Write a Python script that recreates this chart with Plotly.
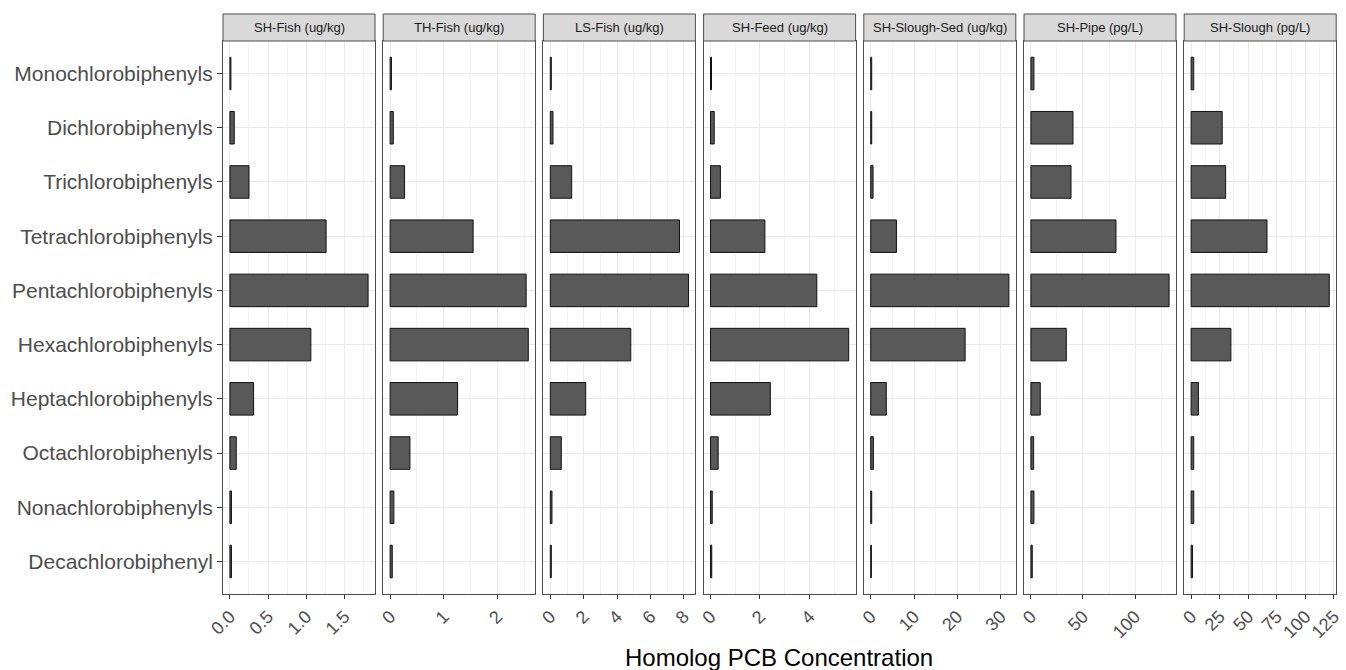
import plotly.graph_objects as go

categories = [
    "Monochlorobiphenyls", "Dichlorobiphenyls", "Trichlorobiphenyls",
    "Tetrachlorobiphenyls", "Pentachlorobiphenyls", "Hexachlorobiphenyls",
    "Heptachlorobiphenyls", "Octachlorobiphenyls", "Nonachlorobiphenyls",
    "Decachlorobiphenyl",
]

panel_titles = [
    "SH-Fish (ug/kg)", "TH-Fish (ug/kg)", "LS-Fish (ug/kg)", "SH-Feed (ug/kg)",
    "SH-Slough-Sed (ug/kg)", "SH-Pipe (pg/L)", "SH-Slough (pg/L)",
]

sh_fish = [0.013, 0.057, 0.25, 1.26, 1.81, 1.06, 0.31, 0.083, 0.02, 0.02]
th_fish = [0.025, 0.06, 0.27, 1.55, 2.54, 2.58, 1.26, 0.37, 0.07, 0.04]
ls_fish = [0.06, 0.16, 1.28, 7.74, 8.28, 4.82, 2.12, 0.66, 0.10, 0.06]
sh_feed = [0.04, 0.15, 0.40, 2.20, 4.30, 5.59, 2.42, 0.31, 0.07, 0.05]
sh_slough_sed = [0.23, 0.23, 0.54, 5.94, 31.9, 21.8, 3.6, 0.62, 0.23, 0.15]
sh_pipe = [2.9, 40.4, 38.5, 81.7, 132.7, 34.0, 9.0, 2.6, 2.9, 1.3]
sh_slough = [2.3, 27.2, 30.2, 66.4, 120.9, 34.8, 6.4, 2.3, 2.3, 1.2]

series = [sh_fish, th_fish, ls_fish, sh_feed, sh_slough_sed, sh_pipe, sh_slough]
major_dticks = [0.5, 1, 2, 2, 10, 50, 25]
tick_formats = [".1f", "d", "d", "d", "d", "d", "d"]

W, H = 1346, 670
panel_left0 = 223.0
panel_step = 160.2
panel_w = 152.0
panel_top = 41.0
panel_bottom = 594.0
strip_top = 14.0

FONT = "Liberation Sans, Arial, sans-serif"
GRID = "#EBEBEB"
BORDER = "#4D4D4D"

fig = go.Figure()
layout = dict(
    width=W, height=H,
    margin=dict(l=0, r=0, t=0, b=0, autoexpand=False),
    paper_bgcolor="white", plot_bgcolor="white",
    showlegend=False,
    font=dict(family=FONT, color="#4D4D4D"),
    bargap=0.4,
)
shapes = []
annotations = []

ydom = [1 - panel_bottom / H, 1 - panel_top / H]

for i, (title, vals) in enumerate(zip(panel_titles, series)):
    n = i + 1
    xa = "x" if n == 1 else f"x{n}"
    ya = "y" if n == 1 else f"y{n}"
    x0 = panel_left0 + i * panel_step
    x1 = x0 + panel_w
    xdom = [x0 / W, x1 / W]

    fig.add_trace(go.Bar(
        x=vals, y=categories, orientation="h", width=0.6,
        marker=dict(color="#595959", line=dict(color="#111111", width=1)),
        xaxis=xa, yaxis=ya, hoverinfo="x+y",
    ))

    m = max(vals)
    d = major_dticks[i]
    layout[f"xaxis{'' if n == 1 else n}"] = dict(
        domain=xdom, anchor=ya, automargin=False,
        range=[-0.05 * m, 1.05 * m],
        tick0=0, dtick=d, tickformat=tick_formats[i],
        showgrid=True, gridcolor=GRID, gridwidth=1,
        minor=dict(tick0=0, dtick=d / 2, showgrid=True, gridcolor="#F3F3F3", gridwidth=1),
        zeroline=False,
        showline=True, mirror=True, linecolor=BORDER, linewidth=1,
        ticks="outside", ticklen=4, tickcolor="#333333", tickwidth=1,
        tickangle=-45,
        tickfont=dict(family=FONT, size=18, color="#4D4D4D"),
    )
    ycfg = dict(
        domain=ydom, anchor=xa, automargin=False,
        type="category",
        categoryorder="array", categoryarray=categories,
        range=[len(categories) - 0.4, -0.6],
        showgrid=True, gridcolor=GRID, gridwidth=1,
        zeroline=False,
        showline=True, mirror=True, linecolor=BORDER, linewidth=1,
    )
    if n == 1:
        ycfg.update(
            ticks="outside", ticklen=5, tickcolor="#333333", tickwidth=1,
            showticklabels=True,
            tickfont=dict(family=FONT, size=21, color="#4D4D4D"),
        )
    else:
        ycfg.update(ticks="", showticklabels=False, matches="y")
    layout[f"yaxis{'' if n == 1 else n}"] = ycfg

    shapes.append(dict(
        type="rect", xref="paper", yref="paper",
        x0=x0 / W, x1=x1 / W,
        y0=1 - panel_top / H, y1=1 - strip_top / H,
        fillcolor="#D9D9D9", line=dict(color=BORDER, width=1),
        layer="above",
    ))
    annotations.append(dict(
        text=title, xref="paper", yref="paper",
        x=(x0 + x1) / 2 / W, y=1 - (strip_top + panel_top) / 2 / H,
        xanchor="center", yanchor="middle", showarrow=False,
        font=dict(family=FONT, size=13, color="#1A1A1A"),
    ))

annotations.append(dict(
    text="Homolog PCB Concentration", xref="paper", yref="paper",
    x=779 / W, y=1 - 657 / H, xanchor="center", yanchor="middle",
    showarrow=False, font=dict(family=FONT, size=24, color="#000000"),
))

layout["shapes"] = shapes
layout["annotations"] = annotations
fig.update_layout(**layout)

fig.write_html("out.html")
